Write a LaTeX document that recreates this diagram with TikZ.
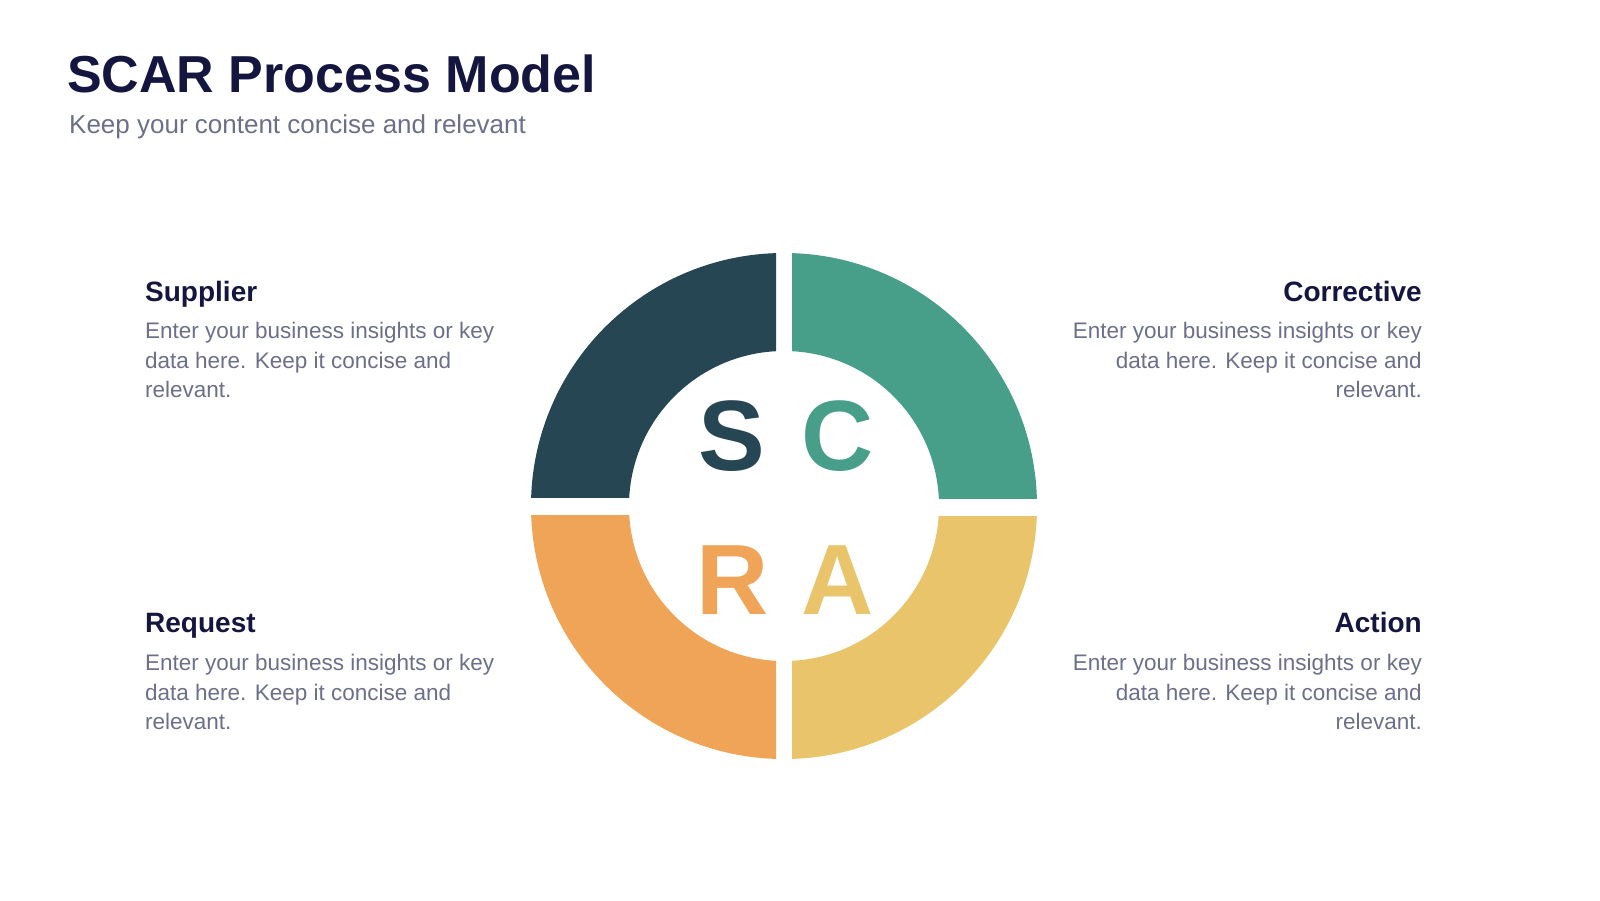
\documentclass[tikz,border=0pt]{standalone}
\usepackage{fontspec}
\setmainfont{Liberation Sans}
\definecolor{navy}{HTML}{14163F}
\definecolor{gr}{HTML}{6B6F8A}
\definecolor{dk}{HTML}{264653}
\definecolor{tl}{HTML}{479F8A}
\definecolor{yl}{HTML}{E9C46A}
\definecolor{org}{HTML}{F0A457}
\begin{document}
\begin{tikzpicture}[x=1pt,y=-1pt,
 head/.style={font=\fontsize{28}{34}\selectfont\bfseries,text=navy,inner sep=0},
 body/.style={font=\fontsize{22.5}{29.5}\selectfont,text=gr,inner sep=0},
 big/.style={font=\fontsize{100}{110}\selectfont\bfseries,inner sep=0,anchor=base}]
\useasboundingbox (0,0) rectangle (1600,900);
\node[anchor=base west,inner sep=0,text=navy,font=\fontsize{52}{60}\selectfont\bfseries] (title) at (67,92) {SCAR Process Model};
\node[anchor=base west,inner sep=0,text=gr,font=\fontsize{26}{30}\selectfont] (sub) at (69,133) {Keep your content concise and relevant};
\foreach \col/\x/\y/\w/\h in {dk/531/253/245/244, tl/792/253/245/245, org/531/515/245/245, yl/792/516/245/245}{
 \begin{scope}
 \clip (\x,\y) rectangle ++(\w,\h);
 \fill[\col,even odd rule] (784,506) circle (253) (784,506) circle (155);
 \end{scope}}
\node[big,text=dk] (S) at (732,470) {S};
\node[big,text=tl] (C) at (838,470) {C};
\node[big,text=org] (R) at (733,614) {R};
\node[big,text=yl] (A) at (838,614) {A};
\node[head,anchor=base west] (h1) at (145,301) {Supplier};
\node[body,anchor=north west,align=left] (b1) at (145,322) {Enter your business insights or key\\data here. Keep it concise and\\relevant.};
\node[head,anchor=base west] (h3) at (145,632) {Request};
\node[body,anchor=north west,align=left] (b3) at (145,654) {Enter your business insights or key\\data here. Keep it concise and\\relevant.};
\node[head,anchor=base east] (h2) at (1422,301) {Corrective};
\node[body,anchor=north east,align=right] (b2) at (1422,322) {Enter your business insights or key\\data here. Keep it concise and\\relevant.};
\node[head,anchor=base east] (h4) at (1422,632) {Action};
\node[body,anchor=north east,align=right] (b4) at (1422,654) {Enter your business insights or key\\data here. Keep it concise and\\relevant.};
\end{tikzpicture}
\end{document}
